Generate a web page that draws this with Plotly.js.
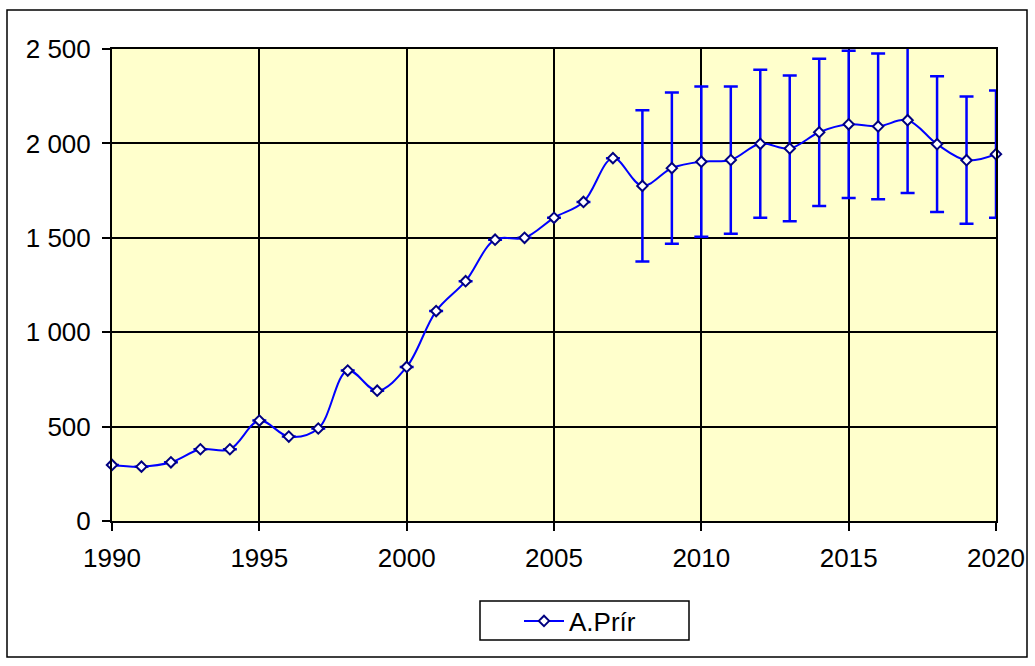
<!DOCTYPE html>
<html>
<head>
<meta charset="utf-8">
<script src="https://cdn.plot.ly/plotly-3.0.1.min.js"></script>
<style>
html,body{margin:0;padding:0;background:#fff;}
#chart{width:1035px;height:666px;}
</style>
</head>
<body>
<div id="chart"></div>
<script>
const years = [1990,1991,1992,1993,1994,1995,1996,1997,1998,1999,2000,2001,2002,2003,2004,2005,2006,2007,2008,2009,2010,2011,2012,2013,2014,2015,2016,2017,2018,2019,2020];
const values = [297,288,311,380,380,532,447,490,797,690,816,1112,1270,1490,1500,1606,1690,1922,1775,1869,1903,1912,1998,1973,2059,2101,2090,2123,1996,1911,1943];
const errors = [0,0,0,0,0,0,0,0,0,0,0,0,0,0,0,0,0,0,400,400,398,390,392,386,390,390,386,386,360,337,337];
const seriesName = "A.Prír";
const xTicks = [1990,1995,2000,2005,2010,2015,2020];
const yTicks = [0,500,1000,1500,2000,2500];

const L = 112, R = 996, T = 49, B = 521, W = 1035, H = 666;
const pw = R - L, ph = B - T;
const px = v => (v - L) / pw;
const py = v => (B - v) / ph;

const trace = {
  x: years,
  y: values,
  type: 'scatter',
  mode: 'lines+markers',
  name: seriesName,
  line: {color: '#0000FF', width: 2, shape: 'spline', smoothing: 1.0},
  marker: {symbol: 'diamond', size: 8, color: '#FFFFFF', line: {color: '#000080', width: 2}},
  error_y: {type: 'data', array: errors, visible: true, color: '#0000FF', thickness: 2.5, width: 7},
  cliponaxis: false
};

const layout = {
  width: W, height: H,
  margin: {l: L, r: W - R, t: T, b: H - B, pad: 0},
  paper_bgcolor: '#FFFFFF',
  plot_bgcolor: '#FFFFCC',
  separators: ', ',
  font: {family: 'Liberation Sans, Arial, sans-serif', size: 26, color: '#000000'},
  showlegend: true,
  legend: {
    orientation: 'h',
    x: px(519), xanchor: 'left', y: py(621), yanchor: 'middle',
    bgcolor: 'rgba(0,0,0,0)', borderwidth: 0,
    font: {size: 26}, itemwidth: 40
  },
  xaxis: {
    range: [1990, 2020], tickvals: xTicks, ticktext: xTicks.map(String),
    showgrid: true, gridcolor: '#000000', gridwidth: 2,
    showline: true, linecolor: '#000000', linewidth: 2, mirror: true,
    ticks: 'outside', ticklen: 8, tickwidth: 2, tickcolor: '#000000',
    ticklabelstandoff: 5,
    zeroline: false, fixedrange: true
  },
  yaxis: {
    range: [0, 2500], tickvals: yTicks, tickformat: ',d',
    showgrid: true, gridcolor: '#000000', gridwidth: 2,
    showline: true, linecolor: '#000000', linewidth: 2, mirror: true,
    ticks: 'outside', ticklen: 8, tickwidth: 2, tickcolor: '#000000',
    ticklabelstandoff: 6,
    zeroline: false, fixedrange: true
  },
  shapes: [{
    type: 'rect', xref: 'paper', yref: 'paper',
    x0: px(7), x1: px(1027), y0: py(657), y1: py(10),
    line: {color: '#000000', width: 1.5}, fillcolor: 'rgba(0,0,0,0)', layer: 'below'
  }, {
    type: 'rect', xref: 'paper', yref: 'paper',
    x0: px(480), x1: px(689), y0: py(640), y1: py(601),
    line: {color: '#000000', width: 1.5}, fillcolor: '#FFFFFF', layer: 'below'
  }]
};

Plotly.newPlot('chart', [trace], layout, {staticPlot: true, displayModeBar: false});
</script>
</body>
</html>
